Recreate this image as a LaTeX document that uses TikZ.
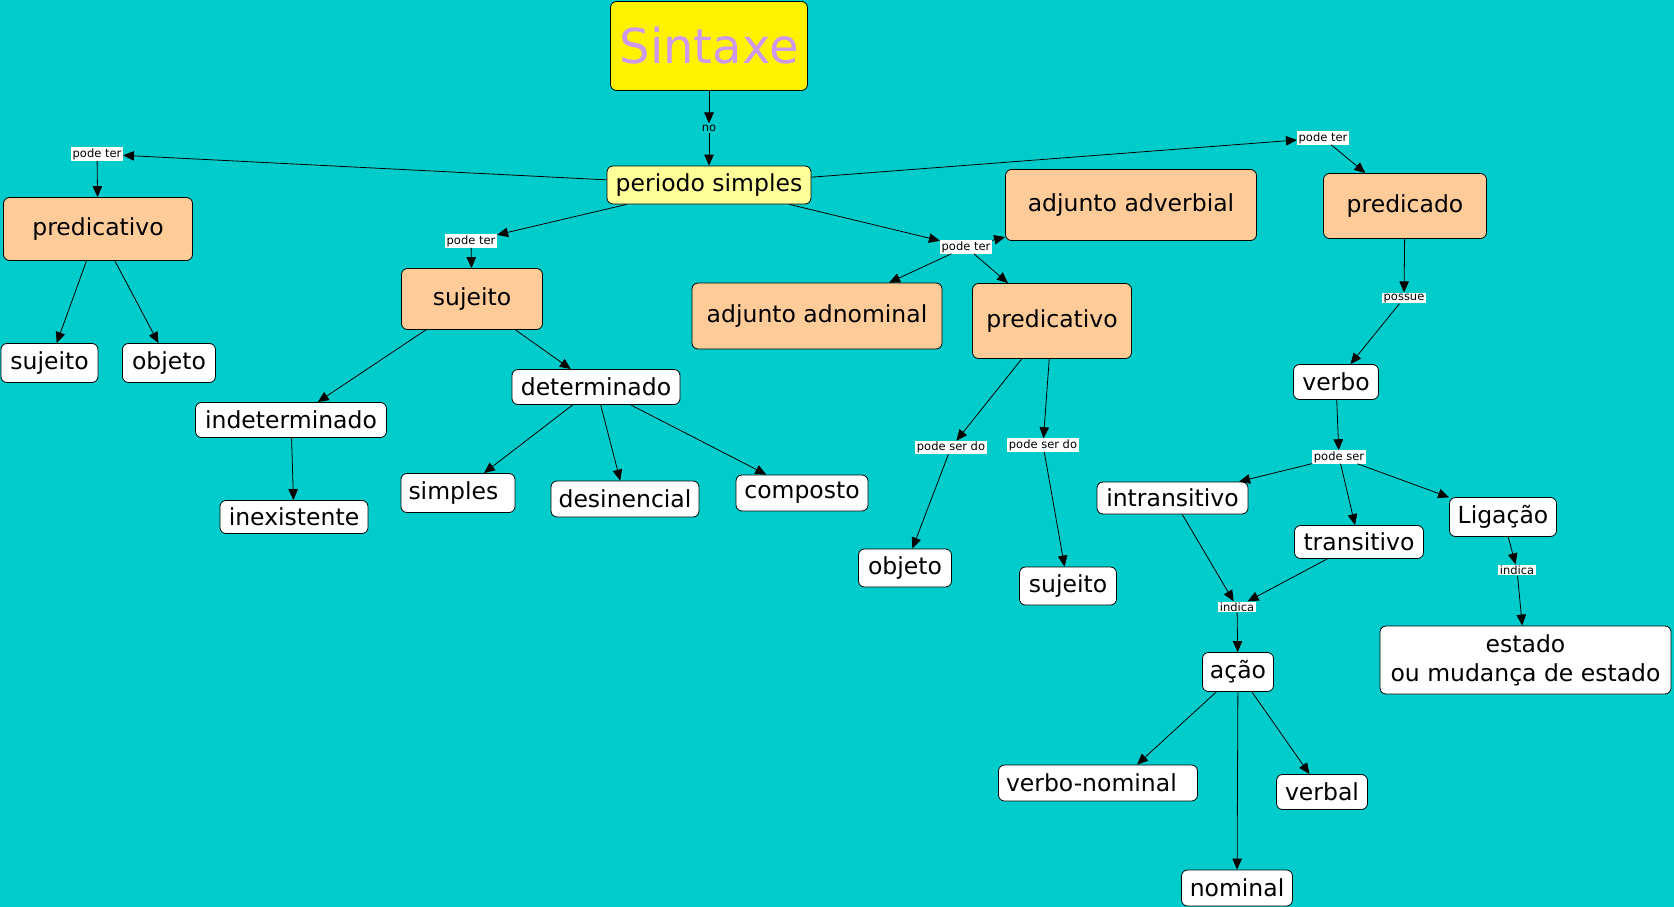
\documentclass[tikz,border=0pt]{standalone}
\usepackage{fontspec}
\setmainfont{DejaVu Sans}
\usetikzlibrary{arrows.meta}
\definecolor{bg}{RGB}{0,204,204}
\definecolor{peach}{RGB}{255,204,153}
\definecolor{lyellow}{RGB}{255,255,153}
\definecolor{lav}{RGB}{204,153,238}
\tikzset{
  concept/.style={draw=black, line width=0.8pt, rounded corners=6pt, inner sep=0pt,
    font=\fontsize{23.5}{29}\selectfont, align=center},
  wbox/.style={concept, fill=white},
  obox/.style={concept, fill=peach},
  lbl/.style={fill=white, inner xsep=1.5pt, inner ysep=1pt, font=\fontsize{11.5}{13}\selectfont},
  arr/.style={-{Triangle[length=11pt,width=9.5pt]}, line width=0.8pt},
}
\begin{document}
\begin{tikzpicture}[x=1pt,y=-1pt]
\fill[bg] (0,0) rectangle (1674,907);
\useasboundingbox (0,0) rectangle (1674,907);

% concepts
\node[concept, fill=yellow, text=lav, font=\fontsize{48}{56}\selectfont,
  minimum width=197pt, minimum height=89pt] (sintaxe) at (709,46) {Sintaxe};
\node[concept, fill=lyellow, minimum width=204pt, minimum height=38pt] (periodo) at (709,185) {periodo simples};
\node[obox, minimum width=189pt, minimum height=63pt] (predL) at (98,229) {predicativo};
\node[wbox, minimum width=97pt, minimum height=39pt] (sujL) at (49.5,363) {sujeito};
\node[wbox, minimum width=93pt, minimum height=39pt] (objL) at (169,363) {objeto};
\node[obox, minimum width=141pt, minimum height=61pt] (sujO) at (472,299) {sujeito};
\node[wbox, minimum width=114pt, minimum height=39pt, text width=99pt, align=left] (simp) at (458,493) {simples};
\node[wbox, minimum width=168pt, minimum height=35pt] (det) at (596,387) {determinado};
\node[wbox, minimum width=148pt, minimum height=36pt] (desin) at (625,499) {desinencial};
\node[wbox, minimum width=191pt, minimum height=35pt] (indet) at (291,420) {indeterminado};
\node[wbox, minimum width=148pt, minimum height=33pt] (inex) at (294,517) {inexistente};
\node[wbox, minimum width=132pt, minimum height=36pt] (comp) at (802,493) {composto};
\node[obox, minimum width=250pt, minimum height=66pt] (adnom) at (817,316) {adjunto adnominal};
\node[obox, minimum width=251pt, minimum height=71pt] (adverb) at (1131,205) {adjunto adverbial};
\node[obox, minimum width=159pt, minimum height=75pt] (predM) at (1052,321) {predicativo};
\node[wbox, minimum width=93pt, minimum height=38pt] (objM) at (905,568) {objeto};
\node[wbox, minimum width=97pt, minimum height=38pt] (sujM) at (1068,586) {sujeito};
\node[obox, minimum width=163pt, minimum height=65pt] (predicado) at (1405,206) {predicado};
\node[wbox, minimum width=85pt, minimum height=35pt] (verbo) at (1336,382) {verbo};
\node[wbox, minimum width=151pt, minimum height=32pt] (intrans) at (1172.5,498) {intransitivo};
\node[wbox, minimum width=129pt, minimum height=33pt] (trans) at (1359,542) {transitivo};
\node[wbox, minimum width=107pt, minimum height=39pt] (lig) at (1503,517) {Ligação};
\node[wbox, minimum width=71pt, minimum height=39pt] (acao) at (1238,672) {ação};
\node[wbox, minimum width=291pt, minimum height=68pt] (estado) at (1525.5,660) {estado\\ou mudança de estado};
\node[wbox, minimum width=199pt, minimum height=36pt, text width=184pt, align=left] (vn) at (1098,783) {verbo-nominal};
\node[wbox, minimum width=91pt, minimum height=35pt] (verbal) at (1322,792) {verbal};
\node[wbox, minimum width=111pt, minimum height=36pt] (nominal) at (1237,888) {nominal};

% linking phrases
\node[font=\fontsize{11.5}{13}\selectfont, inner sep=1pt] (lno) at (709,128) {no};
\node[lbl] (pt1) at (97,154) {pode ter};
\node[lbl] (pt2) at (471,241) {pode ter};
\node[lbl] (pt3) at (966,247) {pode ter};
\node[lbl] (pt4) at (1323,138) {pode ter};
\node[lbl] (possue) at (1404,298) {possue};
\node[lbl] (psd1) at (951,447.5) {pode ser do};
\node[lbl] (psd2) at (1043,445) {pode ser do};
\node[lbl] (ps) at (1339,457) {pode ser};
\node[lbl] (ind1) at (1237,607) {indica};
\node[lbl] (ind2) at (1517,570) {indica};

% connectors
\draw[arr] (sintaxe) -- (lno);
\draw[arr] (lno) -- (periodo);
\draw[arr] (periodo) -- (pt1);
\draw[arr] (pt1) -- (predL);
\draw[arr] (predL) -- (sujL);
\draw[arr] (predL) -- (objL);
\draw[arr] (periodo) -- (pt2);
\draw[arr] (pt2) -- (sujO);
\draw[arr] (periodo) -- (pt3);
\draw[arr] (pt3) -- (adverb);
\draw[arr] (pt3) -- (adnom);
\draw[arr] (pt3) -- (predM);
\draw[arr] (periodo) -- (pt4);
\draw[arr] (pt4) -- (predicado);
\draw[arr] (sujO) -- (indet);
\draw[arr] (sujO) -- (det);
\draw[arr] (indet) -- (inex);
\draw[arr] (det) -- (simp);
\draw[arr] (det) -- (desin);
\draw[arr] (det) -- (comp);
\draw[arr] (predM) -- (psd1);
\draw[arr] (psd1) -- (objM);
\draw[arr] (predM) -- (psd2);
\draw[arr] (psd2) -- (sujM);
\draw[arr] (predicado) -- (possue);
\draw[arr] (possue) -- (verbo);
\draw[arr] (verbo) -- (ps);
\draw[arr] (ps) -- (intrans);
\draw[arr] (ps) -- (trans);
\draw[arr] (ps) -- (lig);
\draw[arr] (intrans) -- (ind1);
\draw[arr] (trans) -- (ind1);
\draw[arr] (ind1) -- (acao);
\draw[arr] (lig) -- (ind2);
\draw[arr] (ind2) -- (estado);
\draw[arr] (acao) -- ([xshift=39pt]vn.north);
\draw[arr] (acao) -- (nominal);
\draw[arr] (acao) -- (verbal);
\end{tikzpicture}
\end{document}
